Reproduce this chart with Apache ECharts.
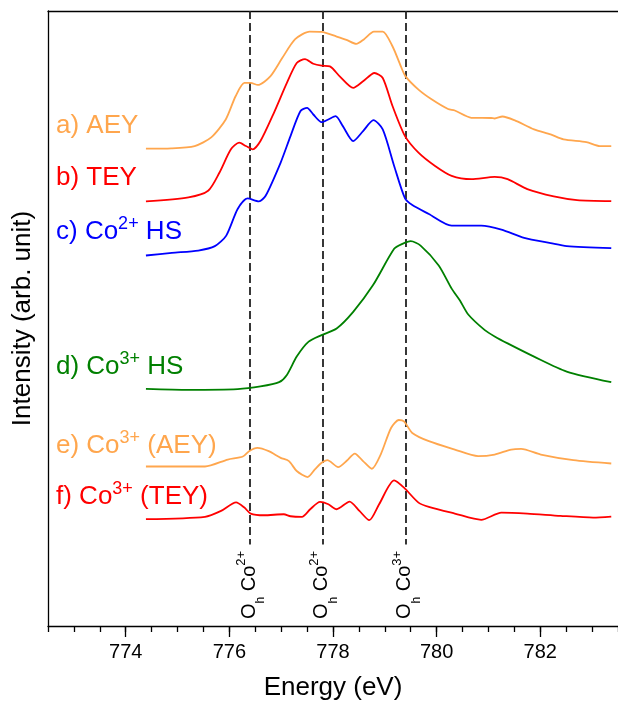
<!DOCTYPE html>
<html>
<head>
<meta charset="utf-8">
<script src="https://cdn.jsdelivr.net/npm/echarts@6.0.0/dist/echarts.min.js"></script>
<style>
  html, body { margin: 0; padding: 0; background: #fff; }
  #chart { width: 618px; height: 706px; }
</style>
</head>
<body>
<div id="chart"></div>
<script>
// Co L3 edge XAS, curves stacked with offsets (arb. unit)
const aeyCo2 = [
  [774.39, 47.97], [774.88, 48.0], [775.33, 48.23], [775.65, 49.1], [775.93, 50.9],
  [776.12, 53.23], [776.29, 54.57], [776.41, 54.57], [776.55, 54.37], [776.79, 55.23],
  [777.02, 57.07], [777.27, 58.97], [777.55, 59.73], [777.78, 59.7], [778.07, 59.23],
  [778.26, 58.9], [778.45, 58.5], [778.6, 58.97], [778.79, 59.73], [778.96, 59.73],
  [779.15, 58.23], [779.31, 56.23], [779.4, 55.23], [779.65, 53.9], [779.91, 52.9],
  [780.22, 51.95], [780.35, 51.8], [780.67, 51.07], [781.05, 51.05], [781.12, 51.0],
  [781.27, 51.2], [781.5, 50.83], [781.88, 49.9], [782.2, 49.4], [782.45, 48.9],
  [782.89, 48.63], [783.15, 48.23], [783.37, 48.23]
];
const teyCo2 = [
  [774.39, 42.67], [775.21, 43.07], [775.59, 43.73], [775.81, 45.57], [776.03, 47.9],
  [776.19, 48.57], [776.32, 48.23], [776.45, 47.9], [776.6, 48.73], [776.86, 51.57],
  [777.11, 54.57], [777.3, 56.57], [777.46, 56.97], [777.62, 56.5], [777.78, 56.3],
  [777.94, 56.23], [778.13, 55.23], [778.39, 54.07], [778.58, 54.73], [778.8, 55.57],
  [778.96, 55.07], [779.15, 52.23], [779.39, 49.23], [779.65, 47.57], [779.97, 46.23],
  [780.29, 45.23], [780.67, 44.9], [781.12, 45.13], [781.37, 44.9], [781.75, 43.9],
  [782.26, 43.17], [782.71, 42.8], [783.37, 42.7]
];
const calcCo2HS = [
  [774.39, 37.23], [774.89, 37.5], [775.4, 37.73], [775.72, 38.17], [775.94, 39.23],
  [776.16, 41.9], [776.35, 42.97], [776.57, 42.67], [776.7, 43.23], [776.99, 46.57],
  [777.18, 49.23], [777.37, 51.73], [777.5, 52.07], [777.62, 51.4], [777.78, 50.63],
  [777.91, 50.9], [778.05, 51.23], [778.19, 50.23], [778.39, 48.73], [778.58, 49.73],
  [778.78, 50.83], [778.96, 49.9], [779.18, 46.23], [779.39, 42.97], [779.53, 42.3],
  [779.85, 41.4], [780.29, 40.23], [780.86, 40.23], [781.25, 39.83], [781.69, 39.0],
  [782.2, 38.47], [782.51, 38.17], [783.37, 37.97]
];
const calcCo3HS = [
  [774.39, 23.83], [775.21, 23.73], [776.16, 23.8], [776.6, 24.07], [776.96, 24.5],
  [777.11, 25.23], [777.3, 27.07], [777.53, 28.57], [777.78, 29.23], [778.07, 29.9],
  [778.39, 31.57], [778.77, 34.23], [779.18, 37.9], [779.34, 38.4], [779.5, 38.67],
  [779.69, 38.23], [780.04, 36.23], [780.29, 33.9], [780.45, 32.7], [780.61, 31.3],
  [780.93, 29.73], [781.12, 29.1], [781.37, 28.4], [781.88, 27.07], [782.51, 25.57],
  [783.37, 24.5]
];
const aeyCo3 = [
  [774.39, 16.03], [775.53, 16.03], [775.97, 16.73], [776.26, 17.03], [776.38, 17.57],
  [776.54, 17.9], [776.76, 17.57], [776.99, 16.9], [777.15, 16.57], [777.3, 15.57],
  [777.51, 14.97], [777.65, 15.73], [777.78, 16.4], [777.89, 16.67], [778.1, 15.97],
  [778.27, 16.63], [778.42, 17.33], [778.58, 16.57], [778.75, 15.8], [778.92, 17.23],
  [779.12, 19.9], [779.27, 20.7], [779.37, 20.57], [779.53, 19.4], [779.85, 18.57],
  [780.35, 17.73], [780.8, 17.07], [781.12, 17.23], [781.44, 17.73], [781.63, 17.8],
  [782.01, 17.23], [782.64, 16.67], [783.37, 16.33]
];
const teyCo3 = [
  [774.39, 10.73], [775.53, 10.97], [775.84, 11.57], [776.13, 12.43], [776.29, 11.9],
  [776.41, 11.3], [776.67, 11.13], [777.05, 11.23], [777.18, 11.03], [777.4, 10.97],
  [777.56, 11.73], [777.75, 12.47], [777.91, 12.23], [778.07, 11.73], [778.32, 12.5],
  [778.51, 11.57], [778.7, 10.63], [778.89, 12.23], [779.18, 14.63], [779.37, 13.9],
  [779.65, 12.4], [779.85, 11.97], [780.35, 11.3], [780.86, 10.67], [781.25, 11.4],
  [781.75, 11.3], [782.39, 11.07], [783.02, 10.9], [783.37, 11.0]
];

const majorTicks = [774, 776, 778, 780, 782];
const ohEnergies = [776.4, 777.8, 779.4];
const ohCharges = ['2+', '2+', '3+'];

const ORANGE = '#ffa64d';
const RED = '#ff0000';
const BLUE = '#0000ff';
const GREEN = '#008000';
const FONT = 'Liberation Sans, Arial, sans-serif';

const curves = [
  {name: 'a) AEY', data: aeyCo2, color: ORANGE},
  {name: 'b) TEY', data: teyCo2, color: RED},
  {name: 'c) Co2+ HS', data: calcCo2HS, color: BLUE},
  {name: 'd) Co3+ HS', data: calcCo3HS, color: GREEN},
  {name: 'e) Co3+ (AEY)', data: aeyCo3, color: ORANGE},
  {name: 'f) Co3+ (TEY)', data: teyCo3, color: RED}
];

// label text (rich) and vertical centre in px
const labels = [
  {text: '{m|a) AEY}', y: 125.5, color: ORANGE},
  {text: '{m|b) TEY}', y: 178, color: RED},
  {text: '{m|c) Co}{s|2+}{m| HS}', y: 231.5, color: BLUE},
  {text: '{m|d) Co}{s|3+}{m| HS}', y: 366.5, color: GREEN},
  {text: '{m|e) Co}{s|3+}{m| (AEY)}', y: 446, color: ORANGE},
  {text: '{m|f) Co}{s|3+}{m| (TEY)}', y: 497, color: RED}
];

const chart = echarts.init(document.getElementById('chart'));

const axisLineStyle = {color: '#000', width: 1.3};

const series = curves.map((c, i) => {
  const s = {
    name: c.name,
    type: 'line',
    data: c.data,
    showSymbol: false,
    symbol: 'none',
    smooth: 0.25,
    lineStyle: {color: c.color, width: 1.8},
    itemStyle: {color: c.color},
    z: 3
  };
  if (i === 0) {
    s.markLine = {
      silent: true,
      symbol: 'none',
      label: {show: false},
      lineStyle: {type: [8, 4], color: '#222', width: 1.8},
      data: ohEnergies.map(e => [{coord: [e, 61.8]}, {coord: [e, 8.2]}]),
      z: 2
    };
  }
  return s;
});

const option = {
  animation: false,
  backgroundColor: '#fff',
  grid: {left: 48, right: -7, top: 11, bottom: 77},
  xAxis: [
    {
      type: 'value', min: 772.5, max: 783.5, interval: 0.5,
      axisLine: {lineStyle: axisLineStyle},
      axisTick: {length: 6, lineStyle: axisLineStyle},
      axisLabel: {show: false},
      splitLine: {show: false}
    },
    {
      type: 'value', min: 772.5, max: 783.5, position: 'bottom',
      axisLine: {show: false},
      axisTick: {show: true, customValues: majorTicks, length: 11, lineStyle: axisLineStyle},
      axisLabel: {customValues: majorTicks, fontSize: 20, color: '#000', fontFamily: FONT, margin: 16},
      splitLine: {show: false},
      name: 'Energy (eV)',
      nameLocation: 'middle',
      nameGap: 49,
      nameTextStyle: {fontSize: 26, color: '#000', fontFamily: FONT}
    },
    {
      type: 'value', min: 772.5, max: 783.5, position: 'top',
      axisLine: {show: true, onZero: false, lineStyle: axisLineStyle},
      axisTick: {show: false},
      axisLabel: {show: false},
      splitLine: {show: false}
    }
  ],
  yAxis: {
    type: 'value', min: 0, max: 61.8,
    axisLine: {show: true, lineStyle: axisLineStyle},
    axisTick: {show: false},
    axisLabel: {show: false},
    splitLine: {show: false},
    name: 'Intensity (arb. unit)',
    nameLocation: 'middle',
    nameGap: 12,
    nameRotate: 90,
    nameTextStyle: {fontSize: 26, color: '#000', fontFamily: FONT}
  },
  series: series
};

chart.setOption(option);

const graphics = labels.map(l => ({
  type: 'text',
  x: 56,
  y: l.y,
  z: 10,
  style: {
    text: l.text,
    fill: l.color,
    align: 'left',
    verticalAlign: 'middle',
    textAlign: 'left',
    textVerticalAlign: 'middle',
    rich: {
      m: {fontSize: 26, fontFamily: FONT, fill: l.color},
      s: {fontSize: 18, fontFamily: FONT, fill: l.color, padding: [0, 0, 15, 0]}
    }
  }
}));

ohEnergies.forEach((e, i) => {
  const p = chart.convertToPixel({xAxisIndex: 0, yAxisIndex: 0}, [e, 0.7]);
  graphics.push({
    type: 'text',
    x: p[0] - 1,
    y: p[1],
    rotation: Math.PI / 2,
    z: 10,
    style: {
      text: '{o|O}{h|h}{m| Co}{s|' + ohCharges[i] + '}',
      fill: '#000',
      align: 'left',
      verticalAlign: 'middle',
      textAlign: 'left',
      textVerticalAlign: 'middle',
      rich: {
        o: {fontSize: 20, fontFamily: FONT, fill: '#000'},
        h: {fontSize: 12, fontFamily: FONT, fill: '#000', padding: [24, 0, 0, 0]},
        m: {fontSize: 20, fontFamily: FONT, fill: '#000'},
        s: {fontSize: 13, fontFamily: FONT, fill: '#000', padding: [0, 0, 15, 0]}
      }
    }
  });
});

chart.setOption({graphic: graphics});
</script>
</body>
</html>
